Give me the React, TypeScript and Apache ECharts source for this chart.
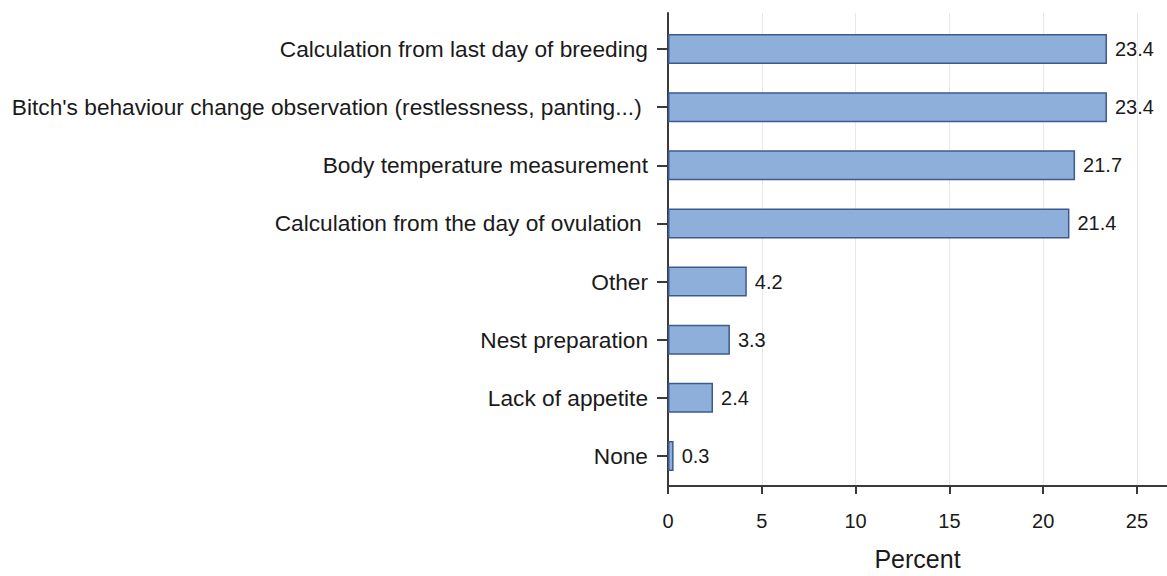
import React, { useEffect, useRef } from "react";
import * as echarts from "echarts";

const categories = [
  "Calculation from last day of breeding",
  "Bitch's behaviour change observation (restlessness, panting...) ",
  "Body temperature measurement",
  "Calculation from the day of ovulation ",
  "Other",
  "Nest preparation",
  "Lack of appetite",
  "None",
];
const percentValues = [23.4, 23.4, 21.7, 21.4, 4.2, 3.3, 2.4, 0.3];
const xTicks = [0, 5, 10, 15, 20, 25];
const axisTitle = "Percent";

const FONT = "'Liberation Sans', Arial, sans-serif";
const TEXT = "#1a1a1a";
const AXIS = "#3a3a3a";
const X_MAX = 26.6;

export default function App() {
  const ref = useRef<HTMLDivElement>(null);
  useEffect(() => {
    if (!ref.current) return;
    const chart = echarts.init(ref.current, null, { renderer: "svg" });
    chart.setOption({
      animation: false,
      backgroundColor: "#ffffff",
      textStyle: { fontFamily: FONT },
      grid: [
        { left: 668, right: 0, top: 13, height: 479, containLabel: false },
        { left: 668, right: 0, top: 20, height: 465, containLabel: false },
      ],
      xAxis: [
        {
          gridIndex: 0,
          type: "value",
          min: 0,
          max: X_MAX,
          interval: 5,
          axisLine: { show: true, lineStyle: { color: AXIS, width: 2 } },
          axisTick: { show: true, length: 8, lineStyle: { color: AXIS, width: 2 } },
          axisLabel: {
            show: true,
            margin: 25,
            fontSize: 20,
            color: TEXT,
            fontFamily: FONT,
            showMaxLabel: false,
            formatter: (v: number) => (xTicks.includes(v) ? String(v) : ""),
          },
          splitLine: { show: true, lineStyle: { color: "#e8e8e8", width: 1 } },
          name: axisTitle,
          nameLocation: "middle",
          nameGap: 60,
          nameTextStyle: { fontSize: 25, color: TEXT, fontFamily: FONT },
        },
        {
          gridIndex: 1,
          type: "value",
          min: 0,
          max: X_MAX,
          interval: 5,
          show: false,
        },
      ],
      yAxis: [
        {
          gridIndex: 0,
          type: "value",
          min: 0,
          max: 1,
          axisLine: { show: true, lineStyle: { color: AXIS, width: 2 } },
          axisTick: { show: false },
          axisLabel: { show: false },
          splitLine: { show: false },
        },
        {
          gridIndex: 1,
          type: "category",
          data: categories,
          inverse: true,
          axisLine: { show: false },
          axisTick: {
            show: true,
            alignWithLabel: true,
            length: 11,
            lineStyle: { color: AXIS, width: 2 },
          },
          axisLabel: {
            margin: 20,
            fontSize: 22.7,
            color: TEXT,
            fontFamily: FONT,
          },
          splitLine: { show: false },
        },
      ],
      series: [
        {
          type: "bar",
          xAxisIndex: 1,
          yAxisIndex: 1,
          data: percentValues,
          barWidth: 30,
          itemStyle: {
            color: "#8fafdb",
            borderColor: "#3b5b8e",
            borderWidth: 1.5,
          },
          label: {
            show: true,
            position: "right",
            distance: 8,
            fontSize: 20,
            color: TEXT,
            fontFamily: FONT,
            formatter: (p: any) => Number(p.value).toFixed(1),
          },
        },
      ],
    });
    return () => chart.dispose();
  }, []);
  return (
    <div
      ref={ref}
      style={{ position: "fixed", left: 0, top: 0, width: 1167, height: 576, background: "#fff" }}
    />
  );
}
